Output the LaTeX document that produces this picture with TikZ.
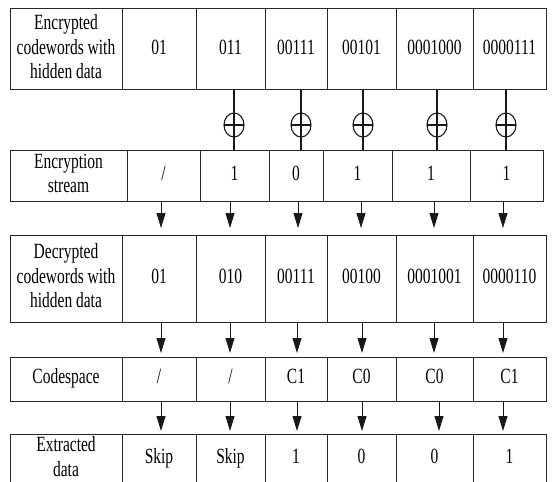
\documentclass[tikz,border=0pt]{standalone}
\usepackage{fontspec}
\setmainfont{Liberation Serif}
\usepackage{graphicx}
\usetikzlibrary{arrows.meta,shapes.geometric}
\newcommand{\celltext}[1]{\scalebox{1}[1.4]{\fontsize{15.5}{17.5}\selectfont\begin{tabular}{@{}c@{}}#1\end{tabular}}}
\tikzset{
  cell/.style={draw=black!85, line width=1pt, anchor=north west, inner sep=0pt, outer sep=0pt},
  arr/.style={draw=black!90, line width=1pt, -{Triangle[length=15pt,width=9pt]}},
  xorsym/.style={ellipse, draw=black!90, line width=1.1pt, minimum width=20pt, minimum height=24pt, inner sep=0pt, outer sep=0pt},
  xorline/.style={draw=black!90, line width=1.1pt}
}
\begin{document}
\begin{tikzpicture}[x=1pt,y=-1pt]
\useasboundingbox (0,0) rectangle (553,481);
\clip (0,0) rectangle (553,481);
% Row 1
\foreach \a/\b/\txt [count=\i] in {10/122/{Encrypted\\codewords with\\hidden data},122/196/01,196/265/011,265/327/00111,327/396/00101,396/473/0001000,473/546/0000111}
  \node[cell, minimum width={(\b-\a)*1pt}, minimum height=81pt] (ra\i) at (\a,9) {\celltext{\txt}};
% Row 2
\foreach \a/\b/\txt [count=\i] in {10/127/{Encryption\\stream},127/200/{/},200/269/1,269/323/0,323/392/1,392/470/1,470/543/1}
  \node[cell, minimum width={(\b-\a)*1pt}, minimum height=51pt] (rb\i) at (\a,150) {\celltext{\txt}};
% Row 3
\foreach \a/\b/\txt [count=\i] in {10/122/{Decrypted\\codewords with\\hidden data},122/196/01,196/265/010,265/327/00111,327/396/00100,396/473/0001001,473/546/0000110}
  \node[cell, minimum width={(\b-\a)*1pt}, minimum height=87pt] (rc\i) at (\a,235) {\celltext{\txt}};
% Row 4
\foreach \a/\b/\txt [count=\i] in {10/122/Codespace,122/196/{/},196/265/{/},265/327/C1,327/396/C0,396/473/C0,473/546/C1}
  \node[cell, minimum width={(\b-\a)*1pt}, minimum height=44pt] (rd\i) at (\a,357) {\celltext{\txt}};
% Row 5
\foreach \a/\b/\txt [count=\i] in {10/122/{Extracted\\data},122/196/Skip,196/265/Skip,265/327/1,327/396/0,396/473/0,473/546/1}
  \node[cell, minimum width={(\b-\a)*1pt}, minimum height=50pt] (re\i) at (\a,434) {\celltext{\txt}};
% XOR symbols between row 1 and row 2
\foreach \x/\i in {234/3,301/4,363/5,437/6,506/7} {
  \node[xorsym] (x\i) at (\x,125) {};
  \draw[xorline] (x\i |- ra\i.south) -- (x\i |- rb\i.north);
  \draw[xorline] (x\i.west) -- (x\i.east);
}
% Arrows row 2 -> row 3
\foreach \x/\i in {161/2,230/3,298/4,361/5,434/6,503/7} {
  \coordinate (p\i) at (\x,0);
  \draw[arr, shorten >=7pt] (p\i |- rb\i.south) -- (p\i |- rc\i.north);
}
% Arrows row 3 -> row 4
\foreach \x/\i in {161/2,230/3,297/4,362/5,434/6,503/7} {
  \coordinate (q\i) at (\x,0);
  \draw[arr, shorten >=4pt] (q\i |- rc\i.south) -- (q\i |- rd\i.north);
}
% Arrows row 4 -> row 5
\foreach \x/\i in {161/2,230/3,297/4,362/5,439/6,503/7} {
  \coordinate (s\i) at (\x,0);
  \draw[arr, shorten >=3pt] (s\i |- rd\i.south) -- (s\i |- re\i.north);
}
\end{tikzpicture}
\end{document}
